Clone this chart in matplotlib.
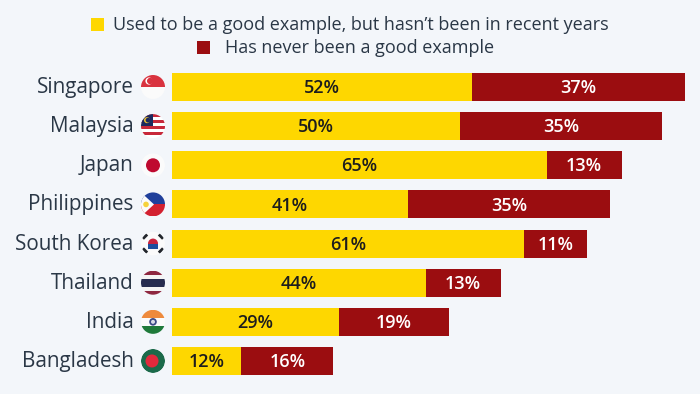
import matplotlib
matplotlib.use("Agg")
import matplotlib.pyplot as plt
from matplotlib.patches import Circle, Rectangle, Polygon

countries = ["Singapore", "Malaysia", "Japan", "Philippines", "South Korea", "Thailand", "India", "Bangladesh"]
used_to_be = [52, 50, 65, 41, 61, 44, 29, 12]
never = [37, 35, 13, 35, 11, 13, 19, 16]
legend_labels = ["Used to be a good example, but hasn\u2019t been in recent years", "Has never been a good example"]

YELLOW = "#fed700"
RED = "#9b0d10"
TEXT = "#2a3746"
BG = "#f3f6fa"

plt.rcParams["font.family"] = ["Open Sans", "DejaVu Sans"]

fig = plt.figure(figsize=(7, 3.94), dpi=100, facecolor=BG)
W, H = 700, 394

# main bars
ax = fig.add_axes([172 / W, 1 - 380.6 / H, (685 - 172) / W, (380.6 - 67.4) / H])
ax.set_facecolor("none")
ypos = range(len(countries))
ax.barh(ypos, used_to_be, height=0.715, color=YELLOW)
ax.barh(ypos, never, left=used_to_be, height=0.715, color=RED)
ax.set_xlim(0, 89)
ax.set_ylim(7.5, -0.5)
ax.set_xticks([])
ax.set_yticks([])
for s in ax.spines.values():
    s.set_visible(False)

for i in ypos:
    ax.text(used_to_be[i] / 2, i + 0.03, f"{used_to_be[i]}%", ha="center", va="center",
            fontsize=13, fontweight="semibold", color="#1d1d1d")
    ax.text(used_to_be[i] + never[i] / 2, i + 0.03, f"{never[i]}%", ha="center", va="center",
            fontsize=13, fontweight="semibold", color="white")

# overlay in pixel coordinates for labels, flags and legend
ov = fig.add_axes([0, 0, 1, 1])
ov.set_xlim(0, W)
ov.set_ylim(H, 0)
ov.axis("off")
ov.patch.set_alpha(0)


def flag(cy, draw, cx=153, r=12):
    clip = Circle((cx, cy), r, transform=ov.transData)
    for p in draw(cx, cy, r):
        ov.add_patch(p)
        p.set_clip_path(clip)


def bands(cx, cy, r, cols):
    h = 2 * r / len(cols)
    return [Rectangle((cx - r, cy - r + k * h), 2 * r, h, color=c, lw=0) for k, c in enumerate(cols)]


def singapore(cx, cy, r):
    return bands(cx, cy, r, ["#d9333f", "#fbfbfb"]) + [
        Circle((cx - 4, cy - 6), 3.6, color="white", lw=0),
        Circle((cx - 2.8, cy - 6), 3.2, color="#d9333f", lw=0)]


def malaysia(cx, cy, r):
    cols = ["#c8283a", "white"] * 4
    return bands(cx, cy, r, cols) + [
        Rectangle((cx - r, cy - r), r, r, color="#1c2a5e", lw=0),
        Circle((cx - r / 2, cy - r / 2), 3, color="#f2c431", lw=0),
        Circle((cx - r / 2 + 1, cy - r / 2), 2.4, color="#1c2a5e", lw=0)]


def japan(cx, cy, r):
    return [Circle((cx, cy), r, color="#fbfbfb", lw=0),
            Circle((cx, cy), 7, color="#bf0a30", lw=0)]


def philippines(cx, cy, r):
    return bands(cx, cy, r, ["#1f3f9b", "#d3202f"]) + [
        Polygon([(cx - r, cy - r), (cx + 1, cy), (cx - r, cy + r)], color="#fbfbfb", lw=0),
        Circle((cx - 7, cy), 2.8, color="#f6d23c", lw=0)]


def south_korea(cx, cy, r):
    out = [Circle((cx, cy), r, color="#fbfbfb", lw=0),
           Circle((cx, cy), 5, color="#c9243f", lw=0),
           Rectangle((cx - 5, cy), 10, 5, color="#1d4e9e", lw=0)]
    for dx, dy, ang in [(-8, -7, -45), (8, -7, 45), (-8, 7, 45), (8, 7, -45)]:
        out.append(Rectangle((cx + dx - 3, cy + dy - 1.5), 6, 3, angle=ang, rotation_point="center",
                             color="#22262c", lw=0))
    return out


def thailand(cx, cy, r):
    return bands(cx, cy, r, ["#8e2740", "#f4f4f4", "#262c4f", "#262c4f", "#f4f4f4", "#8e2740"])


def india(cx, cy, r):
    return bands(cx, cy, r, ["#ee8a3c", "#fbfbfb", "#1f7a3a"]) + [
        Circle((cx, cy), 3.8, color="#3b4a86", lw=0),
        Circle((cx, cy), 2, color="#d8dbe8", lw=0)]


def bangladesh(cx, cy, r):
    return [Circle((cx, cy), r, color="#1b6a4a", lw=0),
            Circle((cx - 1, cy), 6.5, color="#e2293c", lw=0)]


flags = [singapore, malaysia, japan, philippines, south_korea, thailand, india, bangladesh]
for i, name in enumerate(countries):
    cy = 87 + i * 39.14
    ov.text(133.5, cy + 0.5, name, ha="right", va="center", fontsize=14.9, color=TEXT)
    flag(cy, flags[i])

# legend
ov.add_patch(Rectangle((91, 18), 13, 13, color=YELLOW, lw=0))
ov.text(113, 25, legend_labels[0], ha="left", va="center", fontsize=12.95, color=TEXT)
ov.add_patch(Rectangle((197, 41), 13, 13, color=RED, lw=0))
ov.text(225, 48, legend_labels[1], ha="left", va="center", fontsize=12.95, color=TEXT)

fig.savefig("out.png", dpi=100, facecolor=BG)
